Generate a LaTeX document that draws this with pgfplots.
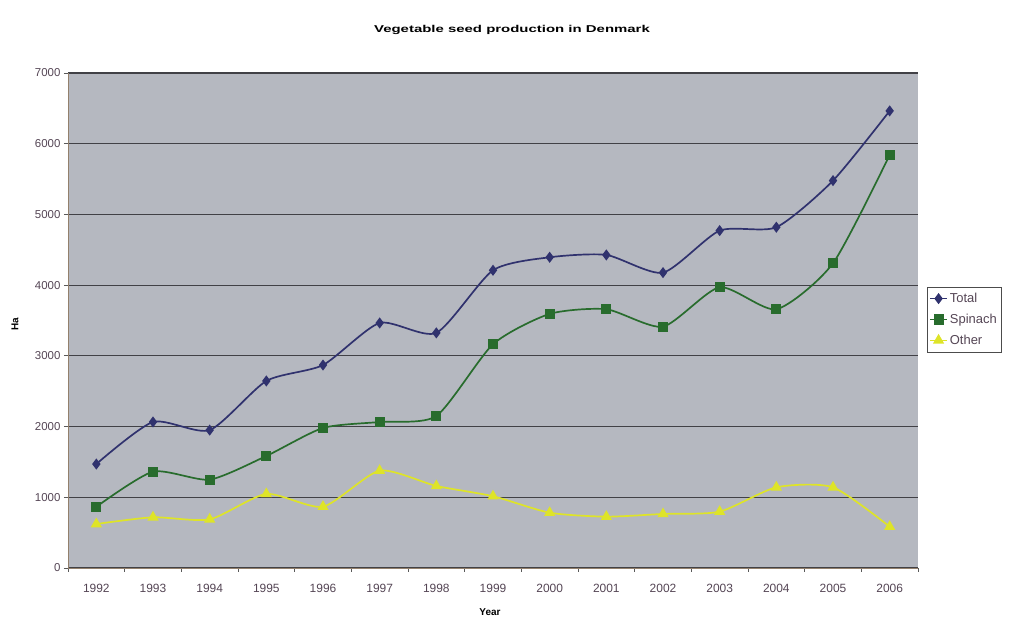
\documentclass[border=0pt]{standalone}
\usepackage{fontspec}
\setmainfont{Liberation Sans}
\newfontfamily\widefont[FakeStretch=1.5]{Liberation Sans}
\usepackage{pgfplots}
\pgfplotsset{compat=1.18}
\definecolor{plotbg}{RGB}{181,184,192}
\definecolor{gridc}{RGB}{65,65,70}
\definecolor{totalc}{RGB}{48,50,110}
\definecolor{spinc}{RGB}{40,108,45}
\definecolor{otherc}{RGB}{222,228,40}
\definecolor{txtc}{RGB}{85,70,85}
\begin{document}
\begin{tikzpicture}[x=1bp,y=1bp]
\path[fill=white] (0,0) rectangle (1016,619);
\begin{axis}[
  at={(68bp,51bp)}, anchor=south west,
  scale only axis, width=850bp, height=495bp,
  xmin=-0.5, xmax=14.5, ymin=0, ymax=7000,
  axis background/.style={fill=plotbg},
  axis x line*=bottom, axis y line*=left,
  axis line style={draw=gray!70!brown, line width=0.9pt, -},
  xtick={0,...,14},
  xticklabels={1992,1993,1994,1995,1996,1997,1998,1999,2000,2001,2002,2003,2004,2005,2006},
  minor xtick={-0.5,0.5,...,14.5},
  major x tick style={draw=none},
  minor tick length=4bp,
  ytick={0,1000,...,7000},
  tick align=outside, major tick length=4bp,
  tick style={draw=gray!70!black, line width=0.7pt},
  ymajorgrids, grid style={draw=gridc, line width=1.2pt},
  /pgf/number format/assume math mode=true,
  yticklabel style={/pgf/number format/1000 sep={}, font=\fontsize{11.5}{13}\selectfont, text=txtc},
  xticklabel style={font=\fontsize{12}{13}\selectfont, text=txtc, yshift=-9bp},
  ylabel={\textbf{Ha}}, ylabel style={font=\fontsize{11}{12}\selectfont, text=txtc},
  every axis y label/.style={at={(-53bp,244bp)}, anchor=center, rotate=90},
  xlabel={\textbf{Year}}, xlabel style={font=\fontsize{11.5}{12}\selectfont, text=txtc},
  every axis x label/.style={at={(422bp,-44bp)}, anchor=center},
  title={\widefont\bfseries Vegetable seed production in Denmark},
  title style={font=\fontsize{13}{14}\selectfont, text=black!85},
  every axis title/.style={at={(444bp,538bp)}, anchor=center},
  legend style={at={(859bp,281bp)}, anchor=north west, draw=black!70, fill=white,
    font=\fontsize{13}{14}\selectfont, text=txtc, row sep=6bp, inner ysep=4bp, inner xsep=2bp},
  legend cell align=left,
  smooth, tension=0.4,
]
\addplot[color=totalc, line width=1.7pt, mark=diamond*, mark size=4.2bp, mark options={fill=totalc}]
coordinates {(0,1470)(1,2065)(2,1950)(3,2645)(4,2870)(5,3465)(6,3325)(7,4210)(8,4394)(9,4427)(10,4177)(11,4771)(12,4819)(13,5478)(14,6464)};
\addlegendentry{Total}
\addplot[color=spinc, line width=1.7pt, mark=square*, mark size=4.2bp, mark options={fill=spinc}]
coordinates {(0,865)(1,1362)(2,1250)(3,1584)(4,1980)(5,2065)(6,2150)(7,3164)(8,3593)(9,3659)(10,3413)(11,3970)(12,3659)(13,4310)(14,5842)};
\addlegendentry{Spinach}
\addplot[color=otherc, line width=1.7pt, mark=triangle*, mark size=4.8bp, mark options={fill=otherc}]
coordinates {(0,622)(1,717)(2,688)(3,1047)(4,867)(5,1376)(6,1160)(7,1015)(8,782)(9,726)(10,764)(11,797)(12,1141)(13,1141)(14,584)};
\addlegendentry{Other}
\end{axis}
\end{tikzpicture}
\end{document}
